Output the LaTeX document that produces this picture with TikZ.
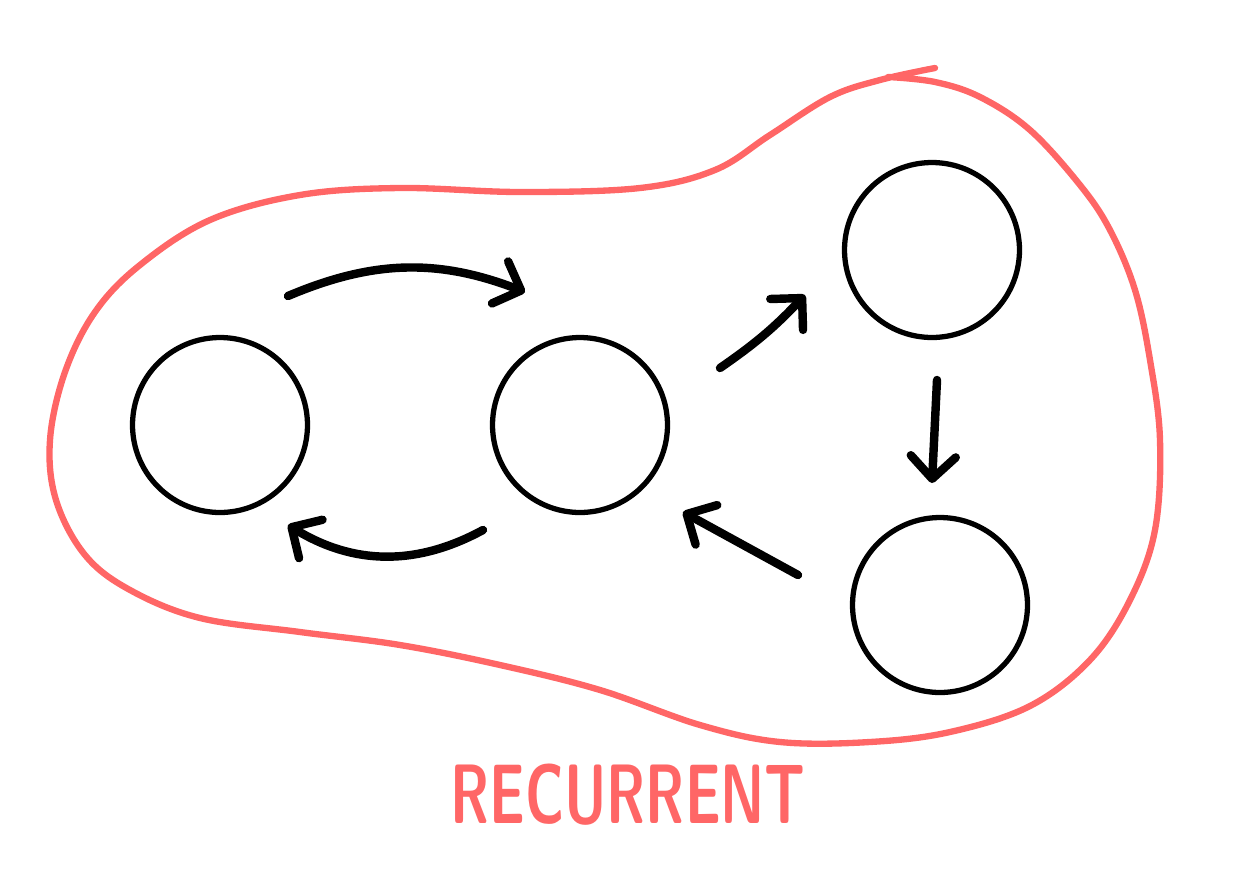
\documentclass[tikz,border=0pt]{standalone}
\usepackage{amsmath, amssymb}
\usepackage{tikz}
\usetikzlibrary{arrows.meta}
\definecolor{blobred}{HTML}{FF6666}

\begin{document}
\begin{tikzpicture}[x=0.02cm, y=-0.02cm,
    state/.style={circle, draw, line width=3pt, inner sep=0pt, minimum size=3.5cm},
    arr/.style={line width=4.8pt, line cap=round, line join=round,
      -{Straight Barb[length=0.45cm, width=0.9cm, round]}},
    blob/.style={draw=blobred, line width=3.6pt, line cap=round, line join=round}]
      \useasboundingbox (0,0) rectangle (1238,893);

      % states
      \node[state]      (A) at (220,425) {};
      \node[state]      (B) at (580,425) {};
      \node[state]      (C) at (932,250) {};
      \node[state]      (D) at (940,605) {};

      % transitions
      \draw[arr] ([shift={(68,-129)}]A.center) to[bend left=22] ([shift={(-55,-133)}]B.center);
      \draw[arr] ([shift={(-97,105)}]B.center) to[bend left=30] ([shift={(68,100)}]A.center);
      \draw[arr] ([shift={(140,-57)}]B.center) to[bend right=6] ([shift={(-127,45)}]C.center);
      \draw[arr] ([shift={(5,130)}]C.center) -- ([shift={(-8,-122)}]D.center);
      \draw[arr] ([shift={(-142,-30)}]D.center) -- ([shift={(103,87)}]B.center);

      % closed class
      \draw[blob] plot[smooth, tension=0.6] coordinates {
        (935,68) (880,80) (830,97) (770,135) (715,170) (640,188) (520,192)
        (400,188) (300,195) (210,220) (140,265) (95,312) (65,372) (50,440)
        (56,500) (85,555) (130,590) (200,618) (300,632) (400,645) (500,665)
        (600,690) (700,725) (780,742) (870,742) (950,732) (1030,706)
        (1090,660) (1130,600) (1155,530) (1160,440) (1150,360) (1135,290)
        (1110,230) (1080,185) (1030,130) (980,97) (935,82) (888,77)};
      \node[text=blobred, font=\fontsize{48}{48}\selectfont\sffamily\bfseries, xscale=0.66]
        (lbl) at (628,795) {RECURRENT};
\end{tikzpicture}
\end{document}
